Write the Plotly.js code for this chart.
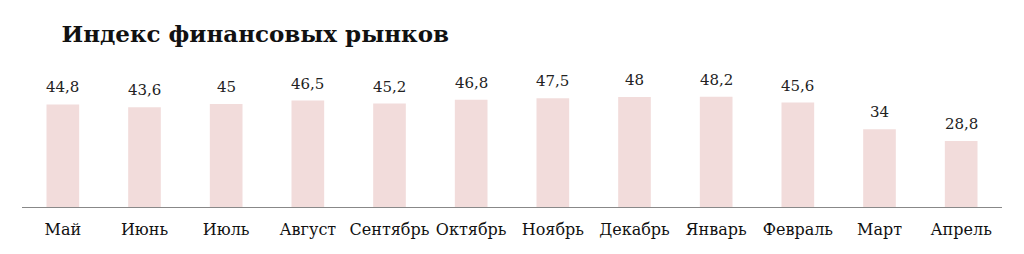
<!DOCTYPE html>
<html><head><meta charset="utf-8">
<script src="https://cdn.plot.ly/plotly-3.0.1.min.js"></script>
<style>html,body{margin:0;padding:0;background:#fff}#chart{width:1024px;height:254px}</style>
</head><body><div id="chart"></div>
<script>
const months = ["Май","Июнь","Июль","Август","Сентябрь","Октябрь","Ноябрь","Декабрь","Январь","Февраль","Март","Апрель"];
const values = [44.8,43.6,45,46.5,45.2,46.8,47.5,48,48.2,45.6,34,28.8];
const labels = values.map(v => String(v).replace('.', ','));
const serif = "DejaVu Serif";
const annotations = months.map((m, i) => ({
  x: m, y: values[i], xref: 'x', yref: 'y', text: labels[i], showarrow: false,
  yanchor: 'bottom', yshift: 6, font: {family: serif, size: 15, color: '#222'}
}));
Plotly.newPlot('chart', [{
  type: 'bar', x: months, y: values,
  marker: {color: '#f2dcdb'},
  hoverinfo: 'none'
}], {
  width: 1024, height: 254,
  margin: {l: 22, r: 22, t: 60, b: 47},
  paper_bgcolor: '#fff', plot_bgcolor: '#fff',
  bargap: 0.6,
  annotations: annotations,
  title: {text: '<b>Индекс финансовых рынков</b>', x: 0.06, xanchor: 'left', y: 0.865, yanchor: 'middle',
          font: {family: serif, size: 23, color: '#111'}},
  xaxis: {showline: true, linecolor: '#888', linewidth: 1, ticks: '', showgrid: false, ticklabelstandoff: 8,
          tickfont: {family: serif, size: 16, color: '#111'}},
  yaxis: {range: [0, 64.2], visible: false, showgrid: false, zeroline: false},
  showlegend: false
}, {displayModeBar: false, staticPlot: true});
</script></body></html>
